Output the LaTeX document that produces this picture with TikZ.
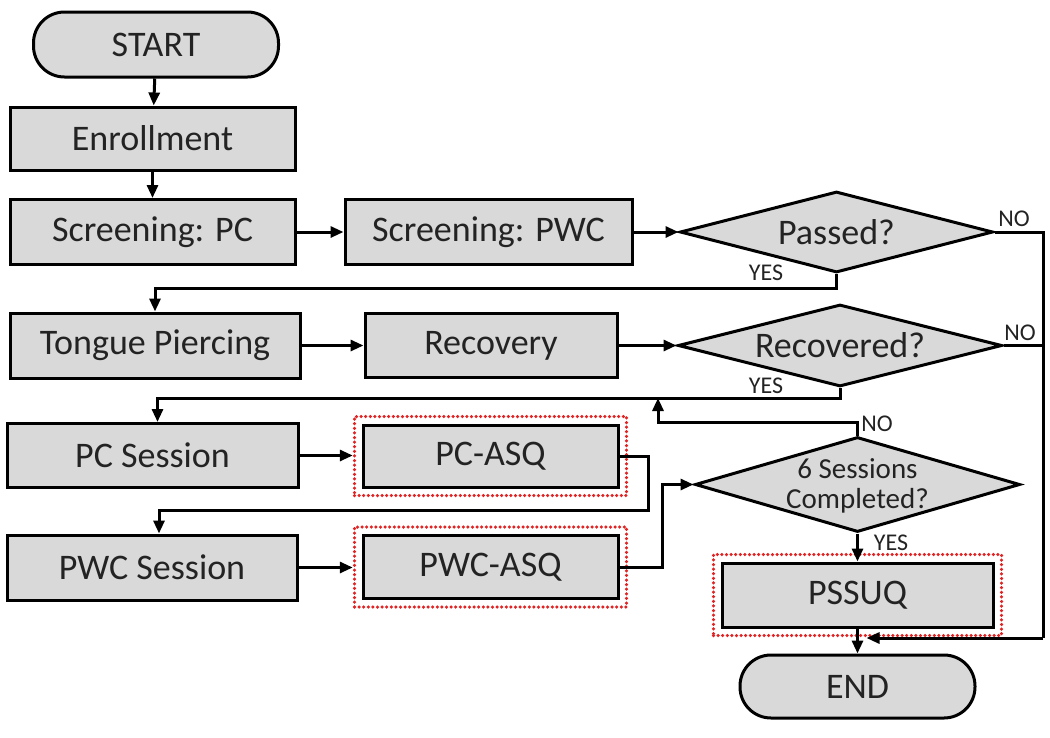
\documentclass[tikz,border=0pt]{standalone}
\usepackage{fontspec}
\setmainfont{Carlito}
\usetikzlibrary{arrows.meta,shapes.geometric,fit}
\definecolor{boxgray}{RGB}{217,217,217}
\definecolor{txt}{RGB}{35,35,35}
\definecolor{dotred}{RGB}{225,35,35}
\begin{document}
\begin{tikzpicture}[x=1pt,y=-1pt,
  box/.style={draw=black,line width=3pt,fill=boxgray,text=txt,
    font=\fontsize{36}{40}\selectfont,inner sep=0pt,rectangle},
  pill/.style={box,rounded corners=31pt},
  decision/.style={draw=black,line width=3pt,fill=boxgray,
    shape=diamond,inner sep=0pt},
  dtext/.style={text=txt,align=center,inner sep=0pt,
    font=\fontsize{36}{40}\selectfont},
  redframe/.style={draw=dotred,line width=3.5pt,dash pattern=on 0pt off 4.6pt,
    line cap=round,inner sep=7pt,rectangle},
  conn/.style={line width=3pt,-{Triangle[length=13pt,width=11pt]}},
  plain/.style={line width=3pt},
  lbl/.style={text=txt,font=\fontsize{24}{26}\selectfont,inner sep=0pt}]
\useasboundingbox (0,0) rectangle (1050,737);

% nodes
\node[pill,minimum width=245pt,minimum height=65pt] (start) at (156,44.5) {START};
\node[box,minimum width=285pt,minimum height=63pt] (enroll) at (152.5,138.5) {Enrollment};
\node[box,minimum width=285pt,minimum height=65pt] (scrpc) at (152.5,232) {Screening: PC};
\node[box,minimum width=287pt,minimum height=65pt] (scrpwc) at (488.5,232) {Screening: PWC};
\node[decision,minimum width=313pt,minimum height=81pt] (passed) at (836.5,232) {};
\node[dtext] (passedtxt) at (passed.center) {Passed?};

\node[box,minimum width=290pt,minimum height=65pt] (tongue) at (155,345.5) {Tongue Piercing};
\node[box,minimum width=252pt,minimum height=64pt] (recovery) at (491,345.5) {Recovery};
\node[decision,minimum width=324pt,minimum height=82pt] (recovered) at (840,345.5) {};
\node[dtext] (recoveredtxt) at (recovered.center) {Recovered?};

\node[box,minimum width=291pt,minimum height=64pt] (pcs) at (152.5,455.5) {PC Session};
\node[box,minimum width=255pt,minimum height=62pt] (pcasq) at (490.5,456) {PC-ASQ};
\node[redframe,fit=(pcasq)] (pcframe) {};

\node[box,minimum width=290pt,minimum height=65pt] (pwcs) at (152,567.5) {PWC Session};
\node[box,minimum width=255pt,minimum height=63pt] (pwcasq) at (490.5,567) {PWC-ASQ};
\node[redframe,fit=(pwcasq)] (pwcframe) {};

\node[decision,minimum width=325pt,minimum height=95pt] (six) at (857.5,484.5) {};
\node[dtext,font=\fontsize{29}{30}\selectfont] (sixtxt) at ([yshift=-1pt]six.center) {6 Sessions\\Completed?};
\node[box,minimum width=271pt,minimum height=64pt] (pssuq) at (857.5,595) {PSSUQ};
\node[redframe,fit=(pssuq)] (pssuqframe) {};
\node[pill,minimum width=235pt,minimum height=63pt] (endn) at (857.5,686.5) {END};

% helper coordinates
\coordinate (rx) at (1043,638);
\coordinate (ry) at (658,398);
\coordinate (pcturn) at (648,510);
\coordinate (pwcturn) at (662,567);

% connectors
\draw[conn] (start) -- (enroll);
\draw[conn] (enroll.south -| scrpc.north) -- (scrpc.north);
\draw[conn] (scrpc) -- (scrpwc);
\draw[conn] (scrpwc) -- (passed.west);
\draw[conn] (passed.south) -- ++(0,14) -| (tongue.north);
\draw[plain] (passed.east) -| (rx);
\draw[plain] (recovered.east) -- (recovered.east -| rx);
\draw[conn] (rx) -- ([xshift=9pt]rx -| endn.north);

\draw[conn] (tongue) -- (recovery);
\draw[conn] (recovery) -- (recovered.west);
\draw[conn] (recovered.south) -- (recovered.south |- ry) -| ([xshift=5pt]pcs.north);

\draw[conn] (pcs.east) -- (pcframe.west |- pcs.east);
\draw[conn] (pcasq.east) -| (pcturn) -| ([xshift=7pt]pwcs.north);
\draw[conn] (pwcs.east) -- (pwcframe.west |- pwcs.east);
\draw[conn] (pwcasq.east) -- (pwcturn) |- (six.west);

\draw[conn] (six.north) -- ++(0,-13) -| (ry);
\draw[conn] (six.south) -- (pssuq.north);
\draw[conn] (pssuq.south) -- (endn.north);

% labels
\node[lbl] (no1) at (1014,219) {NO};
\node[lbl] (yes1) at (766,273) {YES};
\node[lbl] (no2) at (1020,333) {NO};
\node[lbl] (yes2) at (766,386) {YES};
\node[lbl] (no3) at (877,424) {NO};
\node[lbl] (yes3) at (891,543) {YES};
\end{tikzpicture}
\end{document}
